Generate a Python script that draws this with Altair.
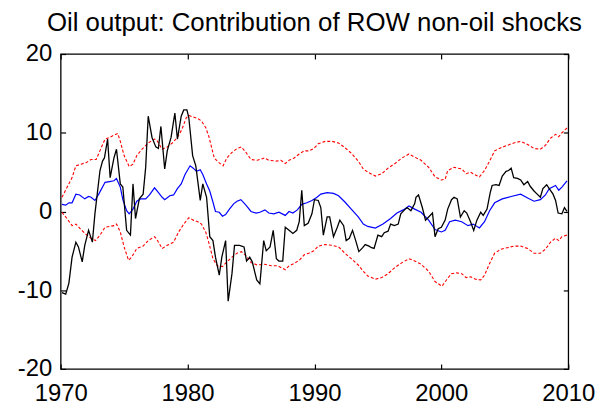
import altair as alt
import pandas as pd

# ---- data ----
black_t = [1970.1, 1970.4, 1970.65, 1970.9, 1971.2, 1971.4, 1971.7, 1971.9, 1972.2, 1972.5,
           1972.7, 1973.1, 1973.3, 1973.45, 1973.7, 1973.9, 1974.2, 1974.4, 1974.7, 1974.9,
           1975.2, 1975.5, 1975.7, 1975.9, 1976.2, 1976.5, 1976.7, 1976.9, 1977.2, 1977.5,
           1977.7, 1977.9, 1978.2, 1978.4, 1978.7, 1979.0, 1979.2, 1979.5, 1979.7, 1979.95,
           1980.1, 1980.4, 1980.65, 1981.0, 1981.2, 1981.5, 1981.75, 1982.0, 1982.2, 1982.5,
           1982.7, 1983.0, 1983.2, 1983.5, 1983.7, 1984.1, 1984.45, 1984.65, 1984.9, 1985.1,
           1985.45, 1985.7, 1986.0, 1986.2, 1986.5, 1986.75, 1987.0, 1987.2, 1987.5, 1987.7,
           1988.0, 1988.3, 1988.6, 1988.8, 1989.0, 1989.2, 1989.5, 1989.8, 1990.0, 1990.3,
           1990.5, 1990.7, 1991.0, 1991.2, 1991.5, 1991.8, 1992.0, 1992.3, 1992.5, 1992.75,
           1993.0, 1993.25, 1993.5, 1993.8, 1994.0, 1994.3, 1994.5, 1994.7, 1995.0, 1995.3,
           1995.5, 1995.8, 1996.0, 1996.3, 1996.6, 1996.8, 1997.1, 1997.3, 1997.6, 1997.9,
           1998.0, 1998.2, 1998.5, 1998.75, 1999.0, 1999.3, 1999.5, 1999.75, 2000.0, 2000.3,
           2000.5, 2000.8, 2001.0, 2001.25, 2001.5, 2001.8, 2002.0, 2002.3, 2002.55, 2002.8,
           2003.1, 2003.3, 2003.6, 2003.85, 2004.0, 2004.3, 2004.55, 2004.8, 2005.1, 2005.3,
           2005.5, 2005.7, 2006.0, 2006.25, 2006.5, 2006.8, 2007.0, 2007.3, 2007.55, 2007.8,
           2008.0, 2008.3, 2008.5, 2008.8, 2009.0, 2009.2, 2009.5, 2009.7, 2009.9]
black_v = [-10.3, -10.5, -9.1, -5.8, -3.9, -4.5, -6.4, -4.3, -2.4, -3.9,
           -0.3, 5.2, 6.4, 6.8, 9.2, 4.3, 6.8, 7.9, 3.5, 3.1,
           -2.4, -3.0, 3.5, -0.9, 1.6, 2.2, 5.6, 12.1, 9.4, 8.2,
           8.0, 10.8, 5.4, 7.7, 9.4, 12.5, 9.2, 12.1, 12.9, 12.9,
           11.9, 7.1, 5.8, 1.4, 3.5, 1.8, -3.2, -3.7, -5.8, -8.1,
           -5.8, -3.7, -11.4, -7.9, -4.3, -4.3, -4.5, -6.3, -5.8, -6.4,
           -8.7, -9.2, -3.7, -5.0, -4.5, -2.4, -6.0, -6.3, -6.3, -2.0,
           -2.4, -2.8, -2.4, -1.3, 2.7, -1.8, -1.5, -0.3, 1.5, 1.4,
           0.5, -3.0, -0.7, -0.7, -3.2, -2.0, -1.1, -1.8, -3.7, -3.4,
           -2.4, -3.7, -5.1, -4.6, -4.2, -4.4, -4.6, -4.7, -3.0, -3.2,
           -2.7, -2.5, -1.6, -1.8, -1.6, -0.3, 0.2, 0.5, 0.1, 1.0,
           1.8, 2.1, 0.5, -1.1, -0.7, -0.2, -3.2, -2.2, -2.0, -1.1,
           0.3, 1.5, 1.8, 1.6, -0.7, 0.1, -0.2, -1.3, -2.4, -1.1,
           -0.1, -0.5, 0.3, 2.4, 3.3, 3.4, 3.3, 4.5, 5.1, 5.2,
           5.5, 4.3, 4.2, 4.0, 3.4, 3.8, 3.2, 2.6, 2.2, 1.8,
           2.9, 3.4, 2.9, 2.2, 1.4, -0.2, -0.3, 0.5, 0.0]

blue_t = [1970.1, 1970.4, 1970.65, 1970.9, 1971.2, 1971.5, 1971.9, 1972.2, 1972.4, 1972.7,
          1973.0, 1973.5, 1973.85, 1974.2, 1974.4, 1974.7, 1974.9, 1975.2, 1975.4, 1975.7,
          1976.0, 1976.3, 1976.7, 1977.0, 1977.4, 1977.6, 1978.0, 1978.2, 1978.6, 1978.9,
          1979.2, 1979.5, 1979.8, 1980.2, 1980.45, 1980.7, 1981.0, 1981.2, 1981.5, 1981.75,
          1982.0, 1982.2, 1982.5, 1982.75, 1983.0, 1983.3, 1983.65, 1983.9, 1984.2, 1984.6,
          1985.0, 1985.4, 1985.7, 1986.1, 1986.4, 1986.8, 1987.2, 1987.7, 1988.0, 1988.3,
          1988.65, 1989.0, 1989.4, 1989.8, 1990.2, 1990.5, 1991.0, 1991.5, 1991.9, 1992.4,
          1992.9, 1993.45, 1993.85, 1994.2, 1994.8, 1995.4, 1996.0, 1996.5, 1997.0, 1997.45,
          1997.9, 1998.4, 1999.0, 1999.5, 2000.0, 2000.3, 2000.65, 2001.1, 2001.6, 2002.1,
          2002.5, 2003.0, 2003.4, 2003.8, 2004.2, 2004.8, 2005.5, 2006.25, 2006.8, 2007.3,
          2007.8, 2008.2, 2008.5, 2009.0, 2009.25, 2009.5, 2009.9]
blue_v = [0.9, 0.8, 1.1, 1.1, 2.2, 2.1, 1.6, 1.9, 1.8, 1.4,
          2.2, 3.7, 3.8, 3.9, 4.2, 3.1, 1.5, 0.1, -0.3, 0.3,
          1.3, 1.6, 1.6, 2.1, 3.0, 2.6, 1.8, 1.5, 2.0, 2.1,
          2.9, 3.5, 4.7, 5.8, 5.5, 5.1, 5.3, 4.7, 3.5, 2.6,
          1.2, 0.0, -0.1, -0.6, -0.4, 0.3, 1.0, 1.3, 1.5, 0.8,
          0.0, -0.2, -0.1, 0.2, -0.2, -0.3, -0.1, -0.5, 0.0, -0.2,
          0.2, 0.9, 1.1, 1.4, 1.8, 2.2, 2.4, 2.3, 2.0, 1.2,
          0.3, -0.7, -1.6, -1.9, -2.1, -1.6, -0.9, -0.2, 0.2, 0.7,
          0.3, -0.1, -1.1, -2.3, -2.6, -2.4, -1.3, -1.1, -1.3, -1.8,
          -1.6, -2.1, -1.3, 0.1, 1.1, 1.6, 1.9, 2.2, 1.7, 1.3,
          1.5, 2.1, 2.9, 3.3, 2.7, 3.1, 3.9]

upper_t = [1970.1, 1970.45, 1970.9, 1971.2, 1971.6, 1972.0, 1972.4, 1972.8, 1973.2, 1973.5,
           1973.85, 1974.2, 1974.5, 1974.7, 1975.0, 1975.4, 1975.7, 1976.0, 1976.4, 1976.9,
           1977.4, 1977.6, 1978.0, 1978.4, 1978.8, 1979.2, 1979.55, 1979.9, 1980.1, 1980.45,
           1980.8, 1981.1, 1981.45, 1981.7, 1982.1, 1982.4, 1982.8, 1983.1, 1983.5, 1983.9,
           1984.25, 1984.6, 1985.0, 1985.5, 1986.05, 1986.4, 1987.0, 1987.35, 1987.7, 1988.0,
           1988.4, 1988.8, 1989.2, 1989.55, 1989.95, 1990.3, 1990.85, 1991.4, 1991.9, 1992.4,
           1992.9, 1993.45, 1993.85, 1994.2, 1994.8, 1995.3, 1995.8, 1996.35, 1996.9, 1997.45,
           1997.9, 1998.4, 1999.0, 1999.5, 2000.0, 2000.3, 2000.5, 2001.0, 2001.6, 2001.95,
           2002.3, 2002.6, 2003.0, 2003.4, 2003.8, 2004.2, 2004.7, 2005.2, 2005.7, 2006.25,
           2006.8, 2007.3, 2007.8, 2008.2, 2008.6, 2009.0, 2009.25, 2009.5, 2009.9]
upper_v = [1.8, 2.9, 4.3, 5.8, 6.0, 6.2, 6.6, 6.6, 8.1, 9.2,
           9.4, 9.7, 9.9, 8.9, 7.1, 5.7, 6.0, 7.1, 7.9, 8.7,
           9.2, 9.0, 7.9, 8.2, 8.7, 9.4, 10.4, 11.9, 12.2, 12.0,
           11.8, 11.5, 10.6, 9.4, 6.8, 6.3, 5.8, 6.8, 7.5, 8.0,
           8.2, 7.5, 6.6, 6.5, 6.8, 6.5, 6.4, 6.5, 6.1, 6.5,
           6.8, 7.3, 7.7, 7.7, 8.0, 8.6, 8.9, 8.9, 8.7, 8.1,
           7.4, 6.4, 5.4, 5.0, 4.5, 4.8, 5.5, 6.1, 6.8, 7.3,
           6.9, 6.5, 5.6, 4.4, 4.0, 4.1, 5.2, 5.6, 5.4, 4.8,
           5.0, 4.7, 4.4, 5.2, 6.4, 7.7, 8.1, 8.4, 8.7, 8.9,
           8.5, 8.0, 7.9, 8.4, 9.3, 9.8, 9.5, 10.0, 10.6]

lower_t = [1970.1, 1970.45, 1970.9, 1971.2, 1971.6, 1972.0, 1972.4, 1972.75, 1973.1, 1973.5,
           1973.85, 1974.2, 1974.4, 1974.7, 1975.0, 1975.35, 1975.6, 1976.0, 1976.5, 1976.9,
           1977.4, 1977.6, 1978.0, 1978.4, 1978.9, 1979.3, 1979.7, 1980.1, 1980.45, 1980.8,
           1981.1, 1981.45, 1981.7, 1982.0, 1982.35, 1982.75, 1983.1, 1983.5, 1983.9, 1984.25,
           1984.6, 1985.0, 1985.5, 1986.05, 1986.6, 1987.1, 1987.7, 1988.0, 1988.4, 1988.8,
           1989.2, 1989.55, 1989.95, 1990.3, 1990.85, 1991.4, 1991.9, 1992.4, 1992.9, 1993.45,
           1993.85, 1994.2, 1994.8, 1995.3, 1995.8, 1996.35, 1996.9, 1997.45, 1997.9, 1998.4,
           1999.0, 1999.5, 2000.05, 2000.4, 2000.8, 2001.2, 2001.6, 2001.95, 2002.3, 2002.7,
           2003.1, 2003.4, 2003.8, 2004.2, 2004.7, 2005.2, 2005.7, 2006.25, 2006.8, 2007.3,
           2007.8, 2008.2, 2008.6, 2009.0, 2009.25, 2009.5, 2009.9]
lower_v = [-0.1, -0.8, -1.8, -1.6, -2.3, -2.9, -3.4, -3.7, -3.0, -2.0,
           -1.9, -1.8, -1.6, -2.6, -4.5, -6.2, -5.8, -4.7, -4.4, -3.7,
           -3.2, -3.6, -4.7, -4.3, -3.9, -2.6, -1.6, -0.8, -1.1, -1.3,
           -1.6, -2.7, -4.1, -6.0, -6.9, -7.0, -6.4, -5.8, -5.3, -5.1,
           -5.6, -6.5, -6.8, -6.7, -6.9, -6.9, -7.4, -6.9, -6.6, -6.2,
           -5.5, -5.3, -5.0, -4.4, -4.2, -4.3, -4.5, -5.3, -6.0, -6.8,
           -7.6, -8.2, -8.6, -8.4, -7.9, -7.1, -6.5, -6.0, -6.3, -6.7,
           -7.6, -8.9, -9.5, -8.7, -7.9, -7.8, -7.9, -8.4, -8.3, -8.6,
           -8.7, -8.1, -6.6, -5.3, -4.8, -4.6, -4.4, -4.4, -4.7, -5.3,
           -5.3, -4.8, -3.9, -3.4, -3.7, -3.2, -3.0]

x_ticks = [1970, 1980, 1990, 2000, 2010]
y_ticks = [-20, -10, 0, 10, 20]
title_text = "Oil output: Contribution of ROW non-oil shocks"

FONT = "Liberation Sans"

df_black = pd.DataFrame({"t": black_t, "v": black_v})
df_blue = pd.DataFrame({"t": blue_t, "v": blue_v})
df_up = pd.DataFrame({"t": upper_t, "v": upper_v})
df_lo = pd.DataFrame({"t": lower_t, "v": lower_v})

xscale = alt.Scale(domain=[1970, 2010], nice=False, zero=False)
yscale = alt.Scale(domain=[-20, 20], nice=False, zero=False)

common_axis = dict(domain=False, grid=False, offset=-5, tickSize=5, tickWidth=1.2,
                   tickColor="black", labelFont=FONT, labelFontSize=24, labelColor="black")

x_bottom = alt.Axis(orient="bottom", values=x_ticks, title=None, labelPadding=13,
                    labelExpr="'' + datum.value", labelFlush=False, **common_axis)
y_left = alt.Axis(orient="left", values=y_ticks, title=None, labelPadding=9,
                  labelExpr="'' + datum.value", labelFlush=False, **common_axis)
x_top = alt.Axis(orient="top", values=x_ticks, title=None, labels=False, **common_axis)
y_right = alt.Axis(orient="right", values=y_ticks, title=None, labels=False, **common_axis)

upper = alt.Chart(df_up).mark_line(color="#ff0000", strokeWidth=1.1, strokeDash=[3, 2]).encode(
    x=alt.X("t:Q", scale=xscale, axis=x_top),
    y=alt.Y("v:Q", scale=yscale, axis=y_right),
)
lower = alt.Chart(df_lo).mark_line(color="#ff0000", strokeWidth=1.1, strokeDash=[3, 2]).encode(
    x=alt.X("t:Q", scale=xscale, axis=None),
    y=alt.Y("v:Q", scale=yscale, axis=None),
)
blue = alt.Chart(df_blue).mark_line(color="#0000ff", strokeWidth=1.2).encode(
    x=alt.X("t:Q", scale=xscale, axis=None),
    y=alt.Y("v:Q", scale=yscale, axis=None),
)
black = alt.Chart(df_black).mark_line(color="black", strokeWidth=1.3).encode(
    x=alt.X("t:Q", scale=xscale, axis=x_bottom),
    y=alt.Y("v:Q", scale=yscale, axis=y_left),
)

chart = alt.layer(upper, lower, blue, black).resolve_axis(
    x="independent", y="independent"
).properties(
    width=511,
    height=317,
    autosize=alt.AutoSizeParams(type="none"),
    padding={"left": 53, "top": 45, "right": 40, "bottom": 35},
    title=alt.TitleParams(title_text, font=FONT, fontSize=26, fontWeight="normal",
                          color="black", anchor="middle", offset=6),
).configure_view(
    stroke="black", strokeWidth=1.3
)

chart.save("out.html", embed_options={"renderer": "svg", "actions": False})
